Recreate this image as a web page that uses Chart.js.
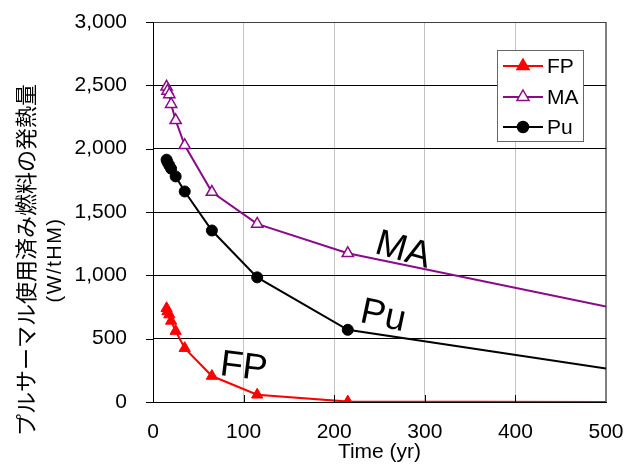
<!DOCTYPE html>
<html>
<head>
<meta charset="utf-8">
<script src="https://cdn.jsdelivr.net/npm/chart.js@4/dist/chart.umd.min.js"></script>
<style>
  html, body { margin: 0; padding: 0; background: #fff; }
  #wrap { width: 626px; height: 465px; }
</style>
</head>
<body>
<div id="wrap"><canvas id="chartHeat"></canvas></div>
<script>
// values
const times = [15, 16, 18, 20, 25, 35, 65, 115, 215, 500];
const fpHeat = [740, 715, 690, 640, 560, 425, 205, 57, 3, 0];
const maHeat = [2488, 2456, 2428, 2351, 2224, 2026, 1657, 1406, 1174, 754];
const puHeat = [1913, 1893, 1868, 1842, 1781, 1662, 1354, 984, 570, 264];
const xTicks = [0, 100, 200, 300, 400, 500];
const yTicks = [0, 500, 1000, 1500, 2000, 2500, 3000];
const seriesNames = ['FP', 'MA', 'Pu'];
const yTitle = 'プルサーマル使用済み燃料の発熱量';
const yUnit = '(W/tHM)';
const xTitle = 'Time (yr)';

const FONT = '"Liberation Sans", Arial, sans-serif';
const JP_FONT = '"Noto Sans CJK JP", sans-serif';
const RED = '#ff0000';
const PURPLE = '#8a0a8a';
const BLACK = '#000000';

// big labels next to the curves (data coords)
const curveTags = [
  {text: 'FP', x: 100, y: 271, angle: 7},
  {text: 'MA', x: 276, y: 1195, angle: 16},
  {text: 'Pu', x: 254, y: 675, angle: 12}
];

const toPoints = arr => times.map((t, i) => ({x: t, y: arr[i]}));
const lastHidden = r => ctx => ctx.dataIndex === times.length - 1 ? 0 : r;

function marker(ctx, style, x, y, r, fill, stroke) {
  ctx.beginPath();
  if (style === 'circle') {
    ctx.arc(x, y, r, 0, Math.PI * 2);
  } else {
    ctx.moveTo(x, y - r);
    ctx.lineTo(x + 0.866 * r, y + 0.5 * r);
    ctx.lineTo(x - 0.866 * r, y + 0.5 * r);
    ctx.closePath();
  }
  ctx.fillStyle = fill;
  ctx.fill();
  ctx.lineWidth = 1.5;
  ctx.strokeStyle = stroke;
  ctx.stroke();
}

const extras = {
  id: 'extras',
  afterDraw(chart) {
    const {ctx, chartArea: a, scales: {x, y}} = chart;
    ctx.save();

    // short ticks: inward on x, outward on y
    ctx.strokeStyle = BLACK;
    ctx.lineWidth = 1;
    xTicks.slice(1, -1).forEach(v => {
      const px = Math.round(x.getPixelForValue(v)) + 0.5;
      ctx.beginPath();
      ctx.moveTo(px, a.bottom);
      ctx.lineTo(px, a.bottom - 7);
      ctx.stroke();
    });
    yTicks.forEach(v => {
      const py = Math.round(y.getPixelForValue(v)) + 0.5;
      ctx.beginPath();
      ctx.moveTo(a.left - 7, py);
      ctx.lineTo(a.left, py);
      ctx.stroke();
    });

    // curve names
    ctx.fillStyle = BLACK;
    ctx.font = '37px ' + FONT;
    ctx.textAlign = 'center';
    ctx.textBaseline = 'middle';
    curveTags.forEach(t => {
      ctx.save();
      ctx.translate(x.getPixelForValue(t.x), y.getPixelForValue(t.y));
      ctx.rotate(t.angle * Math.PI / 180);
      ctx.fillText(t.text, 0, 0);
      ctx.restore();
    });

    // y axis title, two lines
    ctx.save();
    ctx.translate(26, 260);
    ctx.rotate(-Math.PI / 2);
    ctx.font = '22px ' + JP_FONT;
    ctx.fillText(yTitle, 0, 0);
    ctx.restore();
    ctx.save();
    ctx.translate(55, 260);
    ctx.rotate(-Math.PI / 2);
    ctx.font = '20px ' + FONT;
    ctx.letterSpacing = '1.5px';
    ctx.fillText(yUnit, 0, 0);
    ctx.restore();

    // legend box
    const bx = 497.5, by = 50.5, bw = 86, bh = 91;
    ctx.fillStyle = '#fff';
    ctx.fillRect(bx, by, bw, bh);
    ctx.strokeStyle = '#666';
    ctx.lineWidth = 1;
    ctx.strokeRect(bx, by, bw, bh);
    const order = [2, 0, 1]; // FP, MA, Pu
    const rowY = [66, 97, 127];
    ctx.font = '21px ' + FONT;
    ctx.textAlign = 'left';
    order.forEach((di, row) => {
      const ds = chart.data.datasets[di];
      const ly = rowY[row];
      ctx.strokeStyle = ds.borderColor;
      ctx.lineWidth = 2;
      ctx.beginPath();
      ctx.moveTo(503, ly);
      ctx.lineTo(543, ly);
      ctx.stroke();
      marker(ctx, ds.pointStyle, 523, ly, ds.pointStyle === 'circle' ? 5.5 : 7,
        ds.pointBackgroundColor, ds.pointBorderColor);
      ctx.fillStyle = BLACK;
      ctx.fillText(ds.label, 547, ly + 1);
    });

    ctx.restore();
  }
};

new Chart(document.getElementById('chartHeat'), {
  type: 'line',
  data: {
    datasets: [
      {
        label: seriesNames[1],
        data: toPoints(maHeat),
        borderColor: PURPLE,
        borderWidth: 2,
        pointStyle: 'triangle',
        pointRadius: lastHidden(6.5),
        pointBackgroundColor: '#fff',
        pointBorderColor: PURPLE,
        pointBorderWidth: 1.5
      },
      {
        label: seriesNames[2],
        data: toPoints(puHeat),
        borderColor: BLACK,
        borderWidth: 2,
        pointStyle: 'circle',
        pointRadius: lastHidden(5.5),
        pointBackgroundColor: BLACK,
        pointBorderColor: BLACK,
        pointBorderWidth: 1
      },
      {
        label: seriesNames[0],
        data: toPoints(fpHeat),
        borderColor: RED,
        borderWidth: 2,
        pointStyle: 'triangle',
        pointRadius: lastHidden(6.5),
        pointBackgroundColor: RED,
        pointBorderColor: RED,
        pointBorderWidth: 1
      }
    ]
  },
  options: {
    responsive: true,
    maintainAspectRatio: false,
    animation: false,
    layout: {padding: {top: 22, right: 20, bottom: 0, left: 0}},
    elements: {line: {tension: 0}},
    plugins: {
      legend: {display: false},
      tooltip: {enabled: false}
    },
    scales: {
      x: {
        type: 'linear',
        min: 0,
        max: 500,
        afterBuildTicks: s => { s.ticks = xTicks.map(v => ({value: v})); },
        afterFit: s => { s.height = 63; },
        ticks: {
          color: BLACK,
          padding: 0,
          maxRotation: 0,
          font: {family: FONT, size: 21}
        },
        grid: {
          drawTicks: true,
          tickLength: 18,
          tickColor: 'rgba(0,0,0,0)',
          lineWidth: c => c.tick && c.tick.value === 500 ? 2 : 1,
          color: c => {
            if (!c.tick || c.tick.value === 0) return 'rgba(0,0,0,0)';
            return c.tick.value === 500 ? '#808080' : '#c4c4c4';
          }
        },
        border: {color: BLACK, width: 1},
        title: {
          display: true,
          text: xTitle,
          color: BLACK,
          padding: 0,
          font: {family: FONT, size: 21}
        }
      },
      y: {
        min: 0,
        max: 3000,
        afterBuildTicks: s => { s.ticks = yTicks.map(v => ({value: v})); },
        afterFit: s => { s.width = 153; },
        ticks: {
          color: BLACK,
          padding: 0,
          font: {family: FONT, size: 21},
          callback: v => v.toLocaleString('en-US')
        },
        grid: {
          drawTicks: true,
          tickLength: 26,
          tickColor: 'rgba(0,0,0,0)',
          color: c => c.tick && c.tick.value === 3000 ? '#404040' : BLACK,
          lineWidth: 1
        },
        border: {color: BLACK, width: 1}
      }
    }
  },
  plugins: [extras]
});
</script>
</body>
</html>
